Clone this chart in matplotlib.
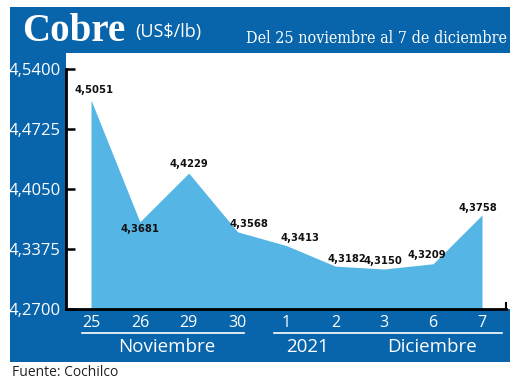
import matplotlib
matplotlib.use("Agg")
import matplotlib.pyplot as plt
from matplotlib import font_manager, transforms
from matplotlib.patches import Rectangle

# ---- data ----
days = ["25", "26", "29", "30", "1", "2", "3", "6", "7"]
values = [4.5051, 4.3681, 4.4229, 4.3568, 4.3413, 4.3182, 4.3150, 4.3209, 4.3758]
value_labels = ["4,5051", "4,3681", "4,4229", "4,3568", "4,3413", "4,3182", "4,3150", "4,3209", "4,3758"]
yticks = [4.27, 4.3375, 4.405, 4.4725, 4.54]
ytick_labels = ["4,2700", "4,3375", "4,4050", "4,4725", "4,5400"]
months = ["Noviembre", "2021", "Diciembre"]
title = "Cobre"
unit = "(US$/lb)"
subtitle = "Del 25 noviembre al 7 de diciembre"
source = "Fuente: Cochilco"

fonts = font_manager.fontManager.ttflist
names = {f.name for f in fonts}
def pick(*cands):
    for c in cands:
        if c in names:
            return c
    return "DejaVu Sans"

def has_condensed(name):
    return any(f.name == name and ("ondensed" in str(f.stretch) or
               (isinstance(f.stretch, (int, float)) and f.stretch < 500))
               for f in fonts)

SANS = pick("Open Sans", "Noto Sans", "Lato", "DejaVu Sans")
SERIF = pick("Liberation Serif", "DejaVu Serif")
NARROW = pick("Liberation Sans Narrow", "DejaVu Sans")
narrow_stretch = "condensed" if has_condensed(NARROW) else "normal"
SUBSERIF = "DejaVu Serif" if has_condensed("DejaVu Serif") else SERIF
sub_stretch = "condensed" if has_condensed("DejaVu Serif") else "normal"

DARK = "#0865ab"
FILL = "#55b5e5"

W, H = 520, 384
fig = plt.figure(figsize=(W / 100, H / 100), dpi=100)
fig.patch.set_facecolor("white")

def fx(px):
    return px / W
def fy(py):
    return 1 - py / H

# big blue panel
fig.patches.append(Rectangle((fx(10), fy(362)), fx(500), (362 - 7) / H,
                             transform=fig.transFigure, facecolor=DARK,
                             edgecolor="none", zorder=-5))

# axes
ax_left, ax_right, ax_top, ax_bottom = 66, 510, 53, 309
ax = fig.add_axes([fx(ax_left), fy(ax_bottom), (ax_right - ax_left) / W, (ax_bottom - ax_top) / H])
ax.set_zorder(1)
ax.set_facecolor("white")
x = list(range(len(values)))
ax.fill_between(x, values, 4.27, color=FILL, linewidth=0, zorder=2)

px_per_x = 48.875
ax.set_xlim(-(91 - ax_left) / px_per_x, 8 + (ax_right - 482) / px_per_x)
ypx = 0.27 / 240
ax.set_ylim(4.27, 4.54 + 16 * ypx)

for s in ["top", "right"]:
    ax.spines[s].set_visible(False)
ax.spines["left"].set_bounds(4.27, 4.54)
ax.spines["left"].set_linewidth(2)
ax.spines["bottom"].set_linewidth(2)
ax.spines["bottom"].set_bounds(ax.get_xlim()[0], 8.49)
ax.spines["left"].set_zorder(5)
ax.spines["bottom"].set_zorder(5)

ax.set_yticks(yticks)
ax.set_yticklabels(ytick_labels)
ax.tick_params(axis="y", direction="in", length=6.5, width=1.8, color="black",
               labelcolor="white", labelsize=12, pad=4)
ax.set_xticks(x)
ax.set_xticklabels(days)
ax.tick_params(axis="x", length=0, labelcolor="white", labelsize=11.5, pad=4)
for t in ax.get_xticklabels() + ax.get_yticklabels():
    t.set_fontfamily(SANS)

# small end tick on bottom spine
ax.plot([8.49, 8.49], [4.27, 4.27 + 6 * ypx], color="black", lw=1.5, clip_on=False, zorder=6)

# value labels
offsets = [(3, 10), (0, -7), (0, 9), (11, 8), (13, 8), (11, 7), (-1, 8), (-6, 9), (-4, 7)]
for xi, v, lab, (dx, dy) in zip(x, values, value_labels, offsets):
    ax.annotate(lab, (xi, v), xytext=(dx, dy), textcoords="offset pixels",
                ha="center", va="center", fontsize=8, fontweight="bold",
                family=NARROW, fontstretch=narrow_stretch, color="#111111", zorder=7)

# month lines and labels
bt = transforms.blended_transform_factory(ax.transData, fig.transFigure)
ly = fy(333)
ax.plot([-0.18, 3.13], [ly, ly], transform=bt, color="white", lw=1.2, clip_on=False)
ax.plot([3.74, 8.41], [ly, ly], transform=bt, color="white", lw=1.2, clip_on=False)
mx = [1.55, 4.42, 6.98]
for m, xm in zip(months, mx):
    ax.text(xm, fy(347), m, transform=bt, ha="center", va="center",
            color="white", fontsize=13.5, family=SANS)

# header
fig.text(fx(22), fy(41), title, color="white", fontsize=28, fontweight="bold",
         family=SERIF, ha="left", va="baseline")
fig.text(fx(135), fy(32), unit, color="white", fontsize=13, family=SANS,
         ha="left", va="center")
fig.text(fx(507), fy(43), subtitle, color="white",
         fontsize=(11.5 if sub_stretch == "condensed" else 12), family=SUBSERIF,
         fontstretch=sub_stretch, ha="right", va="baseline")

fig.text(fx(12), fy(372), source, color="#222222", fontsize=10, family=SANS,
         ha="left", va="center")

fig.savefig("out.png", dpi=100, facecolor="white")
